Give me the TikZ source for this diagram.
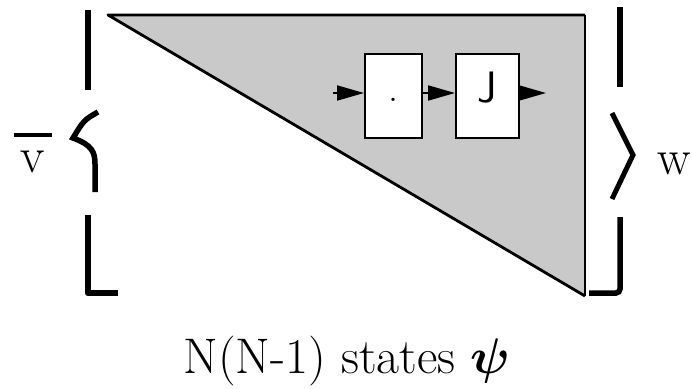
\RequirePackage{fix-cm}
\documentclass[tikz,border=0pt]{standalone}
\usepackage{amsmath,bm}
\usetikzlibrary{arrows.meta,calc,positioning}

\begin{document}
\begin{tikzpicture}[x=1pt,y=-1pt,
  big/.style={font=\fontsize{50}{60}\selectfont,inner sep=0pt},
  brk/.style={line width=6.5pt},
  cell/.style={draw,line width=2pt,fill=white,minimum width=57pt,minimum height=84pt,inner sep=0pt},
  flow/.style={line width=2pt,-{Triangle[length=27pt,width=15pt]}}]
\useasboundingbox (0,0) rectangle (692,388);
% shaded triangle
\fill[black!21] (108,15) -- (585,15) -- (585,296) -- cycle;
\draw[line width=2.8pt,line join=round] (585,15) -- (108,15) -- (585,296);
\draw[line width=1.6pt] (585,15) -- (585,296);
% left bracket
\draw[brk] (88,10) -- (88,90);
\draw[line width=5.5pt] (98,112) .. controls (84,120) .. (73,138)
  .. controls (92,145) and (95,152) .. (95,164) -- (95,192);
\draw[brk,line join=round] (88,215) -- (88,293) -- (118,293);
% right bracket
\draw[brk] (620,7) -- (620,87);
\draw[line width=5pt] (612,113) -- (633,155) -- (612,199);
\draw[line width=5.5pt,rounded corners=4pt] (620,217) -- (620,293) -- (589,293);
% boxes
\node[cell] (dot) at (393.5,96) {};
\node[cell,minimum width=63pt] (hook) at (487.5,96) {};
\node[font=\fontsize{40}{44}\selectfont] at ($(dot.center)+(0,4)$) {.};
\node[font=\fontsize{44}{48}\sffamily\selectfont] at ($(hook.center)+(0,-8)$) {J};
\coordinate (src) at (333,93);
\coordinate (snk) at (546,93);
\draw[flow] (src) -- (src -| dot.west);
\draw[flow] (src -| dot.east) -- (src -| hook.west);
\draw[flow] (src -| hook.east) -- (snk);
% labels
\node[big,anchor=base] (vlab) at (33,172) {v};
\draw[line width=4.5pt] ($(vlab.base)+(-19,-37)$) -- ($(vlab.base)+(19,-37)$);
\node[big,anchor=base] (wlab) at (674,174) {w};
\node[big,anchor=base] (states) at (347,373) {N(N-1) states $\bm{\psi}$};
\end{tikzpicture}
\end{document}
